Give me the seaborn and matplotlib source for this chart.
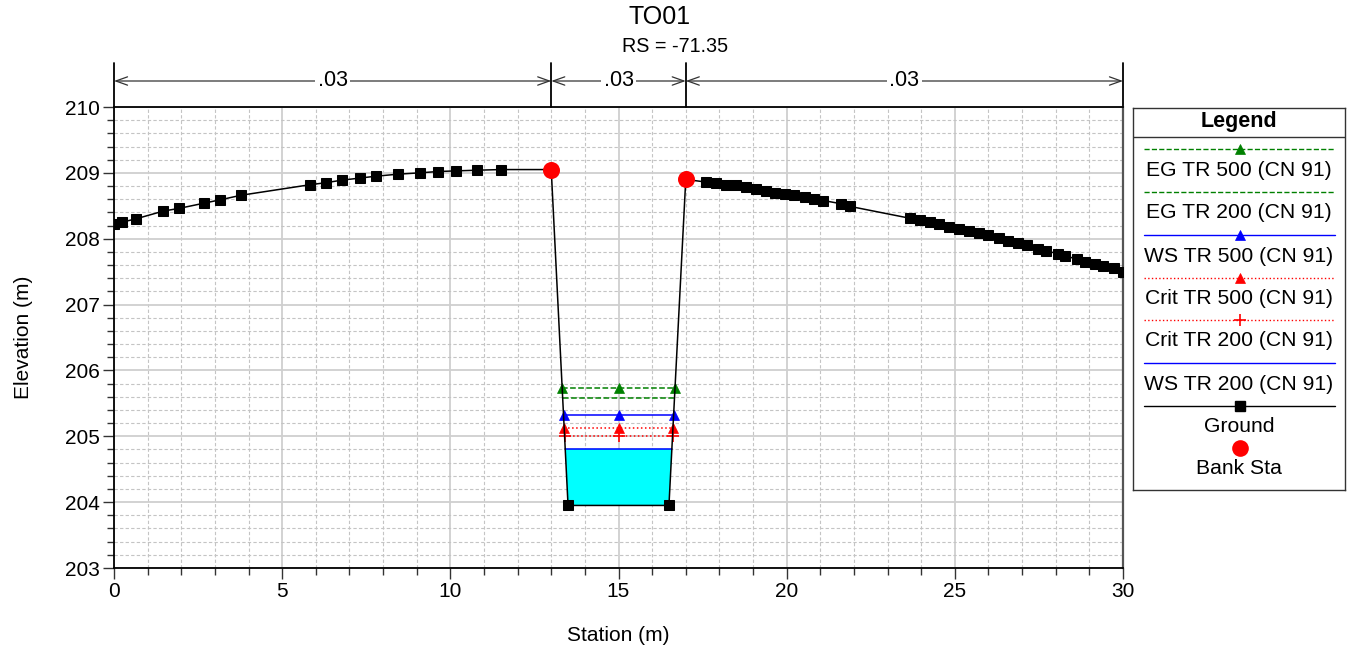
import numpy as np
import matplotlib
matplotlib.use("Agg")
import matplotlib.pyplot as plt
import matplotlib.transforms as mtransforms
from matplotlib.ticker import MultipleLocator
import seaborn as sns

# ground geometry of the cross section
ground_sta = [0.0, 0.23, 0.64, 1.47, 1.93, 2.68, 3.15, 3.78, 5.83, 6.29, 6.79, 7.30,
              7.80, 8.45, 9.09, 9.62, 10.17, 10.78, 11.50, 13.0, 13.5, 16.5, 17.0,
              17.61, 17.91, 18.19, 18.50, 18.79, 19.08, 19.38, 19.66, 19.95, 20.23,
              20.54, 20.80, 21.09, 21.63, 21.89, 23.67, 23.95, 24.25, 24.54, 24.82,
              25.12, 25.42, 25.71, 25.99, 26.31, 26.57, 26.89, 27.14, 27.46, 27.71,
              28.06, 28.28, 28.63, 28.88, 29.18, 29.42, 29.72, 30.0]
ground_elev = [208.23, 208.25, 208.30, 208.42, 208.46, 208.54, 208.59, 208.66, 208.82,
               208.85, 208.89, 208.92, 208.95, 208.98, 209.00, 209.02, 209.03, 209.04,
               209.05, 209.05, 203.95, 203.95, 208.90,
               208.86, 208.84, 208.82, 208.81, 208.78, 208.75, 208.73, 208.70, 208.68,
               208.66, 208.63, 208.61, 208.58, 208.53, 208.49, 208.31, 208.28, 208.25,
               208.22, 208.18, 208.14, 208.12, 208.08, 208.05, 208.01, 207.97, 207.94,
               207.90, 207.85, 207.82, 207.77, 207.74, 207.69, 207.65, 207.61, 207.58,
               207.55, 207.50]
bank_sta = [13.0, 17.0]
bank_elev = [209.05, 208.90]

# water surface profiles
profile_names = ["EG TR 500 (CN 91)", "EG TR 200 (CN 91)", "WS TR 500 (CN 91)",
                 "Crit TR 500 (CN 91)", "Crit TR 200 (CN 91)", "WS TR 200 (CN 91)"]
profile_elev = [205.73, 205.58, 205.32, 205.12, 205.00, 204.81]
profile_color = ["green", "green", "blue", "red", "red", "blue"]
profile_ls = ["--", "--", "-", ":", ":", "-"]
profile_marker = ["^", None, "^", "^", "+", None]

# manning n values
n_bounds = [0.0, 13.0, 17.0, 30.0]
n_values = [".03", ".03", ".03"]

sns.set_theme(style="white")
plt.rcParams["font.family"] = ["Liberation Sans", "DejaVu Sans"]
plt.rcParams["text.color"] = "black"
plt.rcParams["axes.labelcolor"] = "black"
plt.rcParams["xtick.color"] = "black"
plt.rcParams["ytick.color"] = "black"

fig = plt.figure(figsize=(13.56, 6.52), dpi=100)
ax = fig.add_axes([114 / 1356, 1 - 568 / 652, (1123 - 114) / 1356, (568 - 107) / 652])

gs = np.array(ground_sta)
ge = np.array(ground_elev)
i_lb = ground_sta.index(bank_sta[0])
i_rb = ground_sta.index(bank_sta[1])


def wall_x(e):
    # where the channel walls cross elevation e
    xl = np.interp(e, ge[i_lb:i_lb + 2][::-1], gs[i_lb:i_lb + 2][::-1])
    xr = np.interp(e, ge[i_rb - 1:i_rb + 1], gs[i_rb - 1:i_rb + 1])
    return xl, xr


# water fill for WS TR 200
ws = profile_elev[-1]
xl, xr = wall_x(ws)
ax.fill([xl] + list(gs[i_lb + 1:i_rb]) + [xr], [ws] + list(ge[i_lb + 1:i_rb]) + [ws],
        color="#00FFFF", zorder=2, lw=0)

for name, e, c, ls, m in zip(profile_names, profile_elev, profile_color, profile_ls, profile_marker):
    xl, xr = wall_x(e)
    sns.lineplot(x=[xl, (xl + xr) / 2, xr], y=[e, e, e], ax=ax, color=c, linestyle=ls,
                 lw=1.1, marker=m, markersize=7.5 if m == "^" else 9,
                 markeredgecolor=c, markeredgewidth=1.2 if m == "+" else 0.5,
                 estimator=None, sort=False, zorder=4)

sns.lineplot(x=ground_sta, y=ground_elev, ax=ax, color="black", lw=1.1, marker="s",
             markersize=7, markeredgecolor="black", estimator=None, sort=False, zorder=5)
sns.scatterplot(x=bank_sta, y=bank_elev, ax=ax, color="red", s=150, edgecolor="red",
                linewidth=0, zorder=6)

ax.set_xlim(0, 30)
ax.set_ylim(203, 210)
ax.xaxis.set_major_locator(MultipleLocator(5))
ax.xaxis.set_minor_locator(MultipleLocator(1))
ax.yaxis.set_major_locator(MultipleLocator(1))
ax.yaxis.set_minor_locator(MultipleLocator(0.2))
ax.grid(which="major", color="#cfcfcf", lw=1.3, ls="-", zorder=0)
ax.grid(which="minor", color="#c4c4c4", lw=0.8, ls=(0, (3, 2)), zorder=0)
ax.set_axisbelow(True)
ax.tick_params(which="major", direction="out", length=8, width=1, color="#333333",
               labelsize=15, left=True, bottom=True, pad=2)
ax.tick_params(which="minor", direction="out", length=5, width=1, color="#333333",
               left=True, bottom=True)
for s in ["left", "bottom", "top"]:
    ax.spines[s].set_color("black")
    ax.spines[s].set_linewidth(1.3)
ax.spines["right"].set_color("#555555")
ax.spines["right"].set_linewidth(1.6)

ax.set_xlabel("Station (m)", fontsize=15, labelpad=18)
ax.set_ylabel("Elevation (m)", fontsize=15, labelpad=23)

# manning n annotation above the plot
trans = mtransforms.blended_transform_factory(ax.transData, ax.transAxes)
y_arrow = (568 - 81) / 461
y_top = (568 - 63) / 461
for b in n_bounds:
    ax.plot([b, b], [1.0, y_top], transform=trans, color="black", lw=1.3, clip_on=False)
for a, b, t in zip(n_bounds[:-1], n_bounds[1:], n_values):
    ax.annotate("", xy=(a, y_arrow), xytext=(b, y_arrow), xycoords=trans, textcoords=trans,
                arrowprops=dict(arrowstyle="<->,head_length=0.7,head_width=0.25",
                                color="#333333", lw=0.9, shrinkA=0, shrinkB=0))
    ax.text((a + b) / 2, y_arrow, t, transform=trans, ha="center", va="center",
            fontsize=15.5, bbox=dict(facecolor="white", edgecolor="none", pad=1.5))

fig.text(660 / 1356, 1 - 17 / 652, "TO01", ha="center", va="center", fontsize=18)
fig.text(675 / 1356, 1 - 47 / 652, "RS = -71.35", ha="center", va="center", fontsize=14.2)

# legend box
lax = fig.add_axes([1133 / 1356, 1 - 490 / 652, (1345 - 1133) / 1356, (490 - 108) / 652])
lax.set_xlim(0, 212)
lax.set_ylim(382, 0)
lax.set_xticks([])
lax.set_yticks([])
for s in lax.spines.values():
    s.set_color("#333333")
    s.set_linewidth(1.0)
lax.text(106, 13, "Legend", ha="center", va="center", fontsize=15.5, fontweight="bold")
lax.plot([0, 212], [29, 29], color="#333333", lw=1.0)
line_y = [41, 84, 127, 170, 212, 255]
for y, name, c, ls, m in zip(line_y, profile_names, profile_color, profile_ls, profile_marker):
    lax.plot([11, 202], [y, y], color=c, ls=ls, lw=1.0)
    if m is not None:
        lax.plot([106.5], [y], marker=m, color=c, markersize=7.5 if m == "^" else 9,
                 markeredgewidth=1.2 if m == "+" else 0.5, markeredgecolor=c)
    lax.text(106, y + 21, name, ha="center", va="center", fontsize=15.2)
lax.plot([11, 202], [298, 298], color="black", lw=1.0)
lax.plot([106.5], [298], marker="s", color="black", markersize=7)
lax.text(106, 318, "Ground", ha="center", va="center", fontsize=15.2)
lax.plot([106.5], [340], marker="o", color="red", markersize=12, markeredgewidth=0)
lax.text(106, 360, "Bank Sta", ha="center", va="center", fontsize=15.2)

fig.savefig("out.png", dpi=100)
